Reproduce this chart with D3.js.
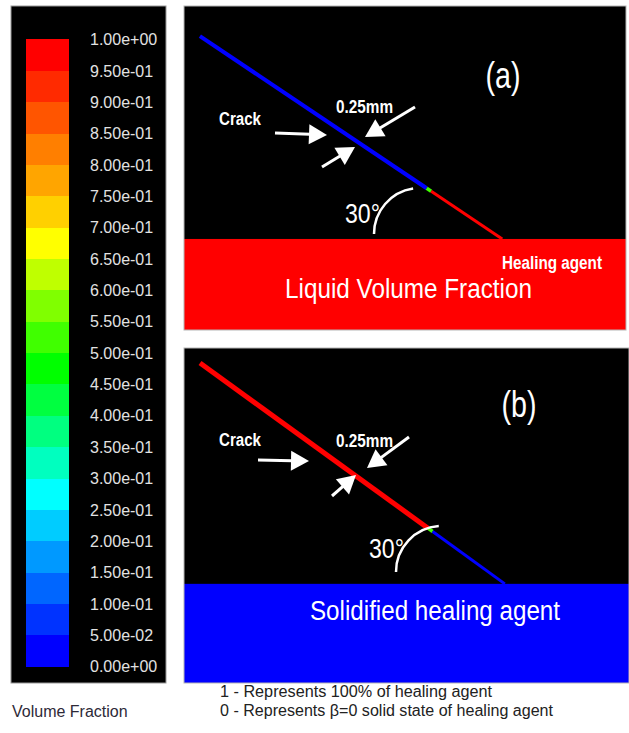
<!DOCTYPE html>
<html>
<head>
<meta charset="utf-8">
<script src="https://cdn.jsdelivr.net/npm/d3@7"></script>
<style>
  body { margin: 0; background: #fff; }
  text { font-family: "Liberation Sans", Arial, sans-serif; }
</style>
</head>
<body>
<script>
// colour bar values (bottom -> top)
var tickValues = [0, 0.05, 0.1, 0.15, 0.2, 0.25, 0.3, 0.35, 0.4, 0.45, 0.5,
                  0.55, 0.6, 0.65, 0.7, 0.75, 0.8, 0.85, 0.9, 0.95, 1];
var tickLabels = ["0.00e+00", "5.00e-02", "1.00e-01", "1.50e-01", "2.00e-01", "2.50e-01",
                  "3.00e-01", "3.50e-01", "4.00e-01", "4.50e-01", "5.00e-01", "5.50e-01",
                  "6.00e-01", "6.50e-01", "7.00e-01", "7.50e-01", "8.00e-01", "8.50e-01",
                  "9.00e-01", "9.50e-01", "1.00e+00"];
var bandColors = ["#0000ff", "#0033ff", "#0066ff", "#0099ff", "#00ccff", "#00ffff",
                  "#00ffbf", "#00ff80", "#00ff40", "#00ff00", "#40ff00", "#80ff00",
                  "#bfff00", "#ffff00", "#ffd000", "#ffa500", "#ff7f00", "#ff5500",
                  "#ff2a00", "#ff0000"];

// crack geometry per panel, in panel percent units
var panelNames = ["(a)", "(b)"];
var crackStartX = [3.6, 3.6];
var crackStartY = [9.3, 4.5];
var crackEndX = [72.0, 72.1];
var crackEndY = [71.9, 70.4];
var crackSplit = [0.75, 0.748];
var crackUpperValue = [0, 1];
var crackLowerValue = [1, 0];
var poolLevel = [71.9, 70.4];
var poolValue = [1, 0];
var poolLabels = ["Liquid Volume Fraction", "Solidified healing agent"];

var svgWidth = 629;
var svgHeight = 733;

var svg = d3.select("body")
  .append("svg")
  .attr("width", svgWidth)
  .attr("height", svgHeight);

var colorScale = d3.scaleQuantize().domain([0, 1]).range(bandColors);

// ---------- colour bar ----------
svg.append("rect")
  .attr("x", 11).attr("y", 6)
  .attr("width", 155).attr("height", 677)
  .attr("fill", "#000")
  .attr("stroke", "#9a9a9a");

var yBar = d3.scaleLinear().domain([0, 1]).range([666, 39]);

svg.append("g").selectAll("rect")
  .data(bandColors)
  .enter()
  .append("rect")
  .attr("x", 26)
  .attr("width", 43)
  .attr("y", (d, i) => yBar((i + 1) / bandColors.length))
  .attr("height", (d, i) => yBar(i / bandColors.length) - yBar((i + 1) / bandColors.length) + 0.6)
  .attr("fill", d => d)
  .attr("shape-rendering", "crispEdges");

var barAxis = svg.append("g")
  .attr("transform", "translate(90,0)")
  .call(d3.axisRight(yBar)
    .tickValues(tickValues)
    .tickFormat((d, i) => tickLabels[i])
    .tickSize(0)
    .tickPadding(0));
barAxis.select(".domain").remove();
barAxis.selectAll("text")
  .attr("font-size", 16)
  .attr("font-family", "Liberation Sans, Arial, sans-serif")
  .attr("fill", "#e2e2e2")
  .attr("dy", "0.36em");

svg.append("text")
  .attr("x", 12).attr("y", 717)
  .attr("font-size", 16)
  .attr("fill", "#2e2a38")
  .text("Volume Fraction");

// ---------- helpers ----------
function arrow(g, x1, y1, x2, y2) {
  var ang = Math.atan2(y2 - y1, x2 - x1);
  var hl = 18, hw = 10;
  var bx = x2 - hl * Math.cos(ang), by = y2 - hl * Math.sin(ang);
  g.append("line")
    .attr("x1", x1).attr("y1", y1).attr("x2", bx + Math.cos(ang)).attr("y2", by + Math.sin(ang))
    .attr("stroke", "#fff").attr("stroke-width", 3);
  g.append("path")
    .attr("d", d3.line()([
      [x2, y2],
      [bx - hw * Math.sin(ang), by + hw * Math.cos(ang)],
      [bx + hw * Math.sin(ang), by - hw * Math.cos(ang)]
    ]) + "Z")
    .attr("fill", "#fff");
}

function label(g, x, y, txt, size, len, bold) {
  var t = g.append("text")
    .attr("x", x).attr("y", y)
    .attr("font-size", size)
    .attr("fill", "#fff")
    .text(txt);
  if (len) t.attr("textLength", len).attr("lengthAdjust", "spacingAndGlyphs");
  if (bold) t.attr("font-weight", "bold");
  return t;
}

// panel boxes and annotation layout
var boxes = [
  { x: 184, y: 6, w: 442, h: 324 },
  { x: 184, y: 348, w: 445, h: 335 }
];
var layout = [
  { name: [503, 88], crack: [219, 125], gap: [336, 113],
    arrows: [[275, 133, 327, 135], [322, 167, 355, 147], [415, 107, 365, 137]],
    arc: [420, 234, 46, -0.15], deg: [345, 223], pool: [285, 298, 247] },
  { name: [519, 417], crack: [219, 446], gap: [336, 447],
    arrows: [[258, 460, 309, 461], [332, 496, 356, 475], [409, 437, 367, 468]],
    arc: [442, 572, 46, -0.07], deg: [369, 558], pool: [310, 620, 250] }
];

// ---------- panels ----------
boxes.forEach(function(box, i) {
  var g = svg.append("g");
  var x = d3.scaleLinear().domain([0, 100]).range([box.x, box.x + box.w]);
  var y = d3.scaleLinear().domain([0, 100]).range([box.y, box.y + box.h]);

  g.append("rect")
    .attr("x", x(0)).attr("y", y(0))
    .attr("width", x(100) - x(0)).attr("height", y(100) - y(0))
    .attr("fill", "#000");

  g.append("rect")
    .attr("x", x(0)).attr("y", y(poolLevel[i]))
    .attr("width", x(100) - x(0)).attr("height", y(100) - y(poolLevel[i]))
    .attr("fill", colorScale(poolValue[i]));

  g.append("rect")
    .attr("x", x(0)).attr("y", y(0))
    .attr("width", x(100) - x(0)).attr("height", y(100) - y(0))
    .attr("fill", "none")
    .attr("stroke", "#b5b5b5");

  // crack: upper part, thin mixed zone, lower part
  var px = d3.interpolateNumber(crackStartX[i], crackEndX[i]);
  var py = d3.interpolateNumber(crackStartY[i], crackEndY[i]);
  var s = crackSplit[i];
  var segs = [
    { t0: 0, t1: s, v: crackUpperValue[i], w: i === 0 ? 4 : 5 },
    { t0: s, t1: s + 0.015, v: 0.5, w: 3.5 },
    { t0: s + 0.015, t1: 1, v: crackLowerValue[i], w: 3 }
  ];
  g.selectAll(".seg")
    .data(segs)
    .enter()
    .append("line")
    .attr("x1", d => x(px(d.t0))).attr("y1", d => y(py(d.t0)))
    .attr("x2", d => x(px(d.t1))).attr("y2", d => y(py(d.t1)))
    .attr("stroke", d => colorScale(d.v))
    .attr("stroke-width", d => d.w);

  var L = layout[i];
  label(g, L.name[0], L.name[1], panelNames[i], 36, 35).attr("text-anchor", "middle");
  label(g, L.crack[0], L.crack[1], "Crack", 18, 42, true);
  label(g, L.gap[0], L.gap[1], "0.25mm", 18, 57, true);
  L.arrows.forEach(a => arrow(g, a[0], a[1], a[2], a[3]));

  // angle arc
  var p = d3.path();
  p.arc(L.arc[0], L.arc[1], L.arc[2], -Math.PI / 2 + L.arc[3], -Math.PI, true);
  g.append("path")
    .attr("d", p.toString())
    .attr("fill", "none")
    .attr("stroke", "#fff")
    .attr("stroke-width", 2.5);

  label(g, L.deg[0], L.deg[1], "30°", 27, 35);

  if (i === 0) label(g, 502, 269, "Healing agent", 18, 100, true);
  label(g, L.pool[0], L.pool[1], poolLabels[i], 27, L.pool[2]);
});

// ---------- notes ----------
svg.append("text")
  .attr("x", 220).attr("y", 697)
  .attr("font-size", 16).attr("fill", "#222")
  .attr("textLength", 272).attr("lengthAdjust", "spacingAndGlyphs")
  .text("1 - Represents 100% of healing agent");
svg.append("text")
  .attr("x", 220).attr("y", 716)
  .attr("font-size", 16).attr("fill", "#222")
  .attr("textLength", 333).attr("lengthAdjust", "spacingAndGlyphs")
  .text("0 - Represents β=0 solid state of healing agent");
</script>
</body>
</html>
